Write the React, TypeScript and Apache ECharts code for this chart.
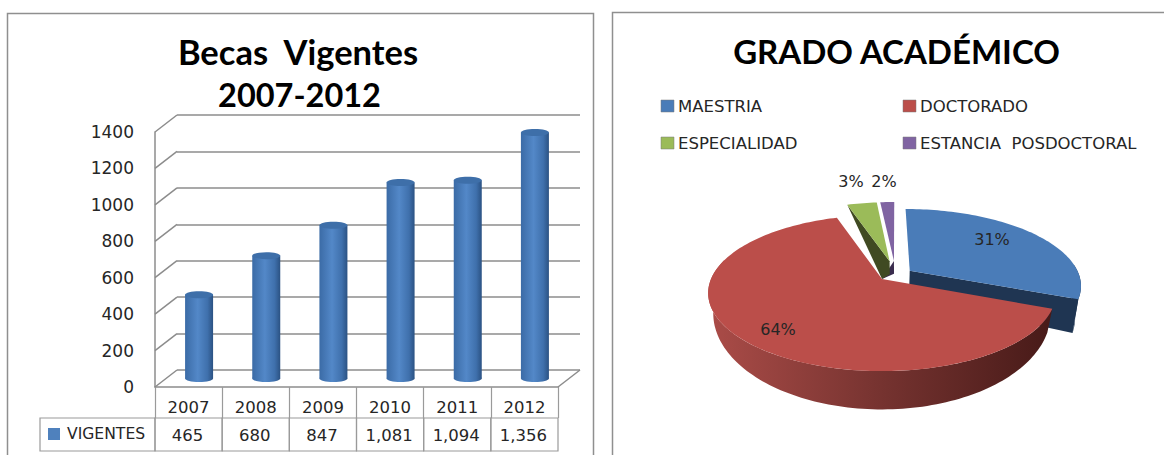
import React, { useEffect, useRef } from "react";
import * as echarts from "echarts";

const years = ["2007", "2008", "2009", "2010", "2011", "2012"];
const vigentes = [465, 680, 847, 1081, 1094, 1356];
const yTicks = [0, 200, 400, 600, 800, 1000, 1200, 1400];
const seriesName = "VIGENTES";
const pieNames = ["MAESTRIA", "DOCTORADO", "ESPECIALIDAD", "ESTANCIA  POSDOCTORAL"];
const pieValues = [31, 64, 3.4, 1.6];

const LABEL_FONT = "'DejaVu Sans', Verdana, sans-serif";
const TITLE_FONT = "Lato, 'Noto Sans', sans-serif";
const GRID_COLOR = "#8c8c8c";
const TABLE_COLOR = "#9a9a9a";
const TEXT_COLOR = "#262626";
const pieColors = ["#4a7cb8", "#bb4e4a", "#9bbb59", "#8064a2"];
const pieWalls = ["#1f3552", "#7d3531", "#404a22", "#3a2c4e"];

// projective model of the 3D pie
const PERSP = 0.18;
const CX = 882;
const TOP_PLANE = { cy: 279, a: 171, b: 75.5 };
const BOTTOM_PLANE = { cy: 296, a: 166, b: 93 };
const sliceExplode = [0.2, 0, 0.25, 0.25];
const sliceShiftX = [0, 0, 16, 14];
const sliceDropY = [12, 0, 0, 0];
const pieLabelAt = [[992, 239], [778, 329], [851, 181], [884, 181]];
const pieZ = [1, 6, 4, 3];

const DEPTH_X = 22;
const DEPTH_Y = 17;

function proj(u: number, v: number, plane: any, dx: number, dy: number): number[] {
  const d = 1 + PERSP * v;
  return [CX + dx + (plane.a * u) / d, plane.cy + dy - (plane.b * v) / d];
}

function renderPie(params: any, api: any) {
  const i = params.dataIndex;
  const total = pieValues.reduce((a, b) => a + b, 0);
  const before = pieValues.slice(0, i).reduce((a, b) => a + b, 0);
  const t0 = (before / total) * Math.PI * 2;
  const t1 = ((before + api.value(0)) / total) * Math.PI * 2;
  const mid = (t0 + t1) / 2;
  const e = sliceExplode[i];
  const ox = e * Math.sin(mid);
  const oy = e * Math.cos(mid);
  const dx = sliceShiftX[i];
  const drop = sliceDropY[i];
  const pt = (t: number, r: number, plane: any, dy: number) =>
    proj(ox + r * Math.sin(t), oy + r * Math.cos(t), plane, dx, dy);
  const arc = (a: number, b: number, plane: any, dy: number) => {
    const out: number[][] = [];
    const n = Math.max(4, Math.ceil(Math.abs(b - a) * 40));
    for (let k = 0; k <= n; k++) out.push(pt(a + ((b - a) * k) / n, 1, plane, dy));
    return out;
  };
  const z = pieZ[i];
  const children: any[] = [];
  const wallPoly = (points: number[][], fill: any) => ({
    type: "polygon",
    z2: z,
    shape: { points },
    style: { fill, stroke: "none" },
  });
  if (i === 1) {
    const end = (285 / 180) * Math.PI;
    const grad = new echarts.graphic.LinearGradient(0, 0, 1, 0, [
      { offset: 0, color: "#ab4c48" },
      { offset: 0.5, color: "#763330" },
      { offset: 1, color: "#471a18" },
    ]);
    children.push(wallPoly([...arc(t0, end, TOP_PLANE, 0), ...arc(t0, end, BOTTOM_PLANE, 0).reverse()], grad));
  } else if (i === 0) {
    const rimFrom = (85 / 180) * Math.PI;
    children.push(
      wallPoly([pt(0, 0, TOP_PLANE, 0), pt(t1, 1, TOP_PLANE, 0), pt(t1, 1, BOTTOM_PLANE, drop), pt(0, 0, BOTTOM_PLANE, drop)], pieWalls[i])
    );
    children.push(
      wallPoly([...arc(rimFrom, t1, TOP_PLANE, 0), ...arc(rimFrom, t1, BOTTOM_PLANE, drop).reverse()], pieWalls[i])
    );
  } else if (i === 2) {
    // inner cut wall reaches back to the apex of the main pie
    children.push(
      wallPoly([pt(0, 0, TOP_PLANE, 0), pt(t0, 1, TOP_PLANE, 0), proj(0, 0, TOP_PLANE, 0, 0), pt(0, 0, BOTTOM_PLANE, drop)], pieWalls[i])
    );
  } else {
    children.push(
      wallPoly([pt(0, 0, TOP_PLANE, 0), proj(0, 0, TOP_PLANE, 0, 0), pt(0, 0, BOTTOM_PLANE, drop)], pieWalls[i])
    );
  }
  children.push({
    type: "polygon",
    z2: z + 1,
    shape: { points: [pt(0, 0, TOP_PLANE, 0), ...arc(t0, t1, TOP_PLANE, 0)] },
    style: { fill: pieColors[i], stroke: "none" },
  });
  children.push({
    type: "text",
    z2: 20,
    style: {
      text: `${Math.round(api.value(0))}%`,
      x: pieLabelAt[i][0],
      y: pieLabelAt[i][1],
      align: "center",
      verticalAlign: "middle",
      fontFamily: LABEL_FONT,
      fontSize: 16,
      fill: TEXT_COLOR,
    },
  });
  return { type: "group", children };
}

function renderDiagonal(_: any, api: any) {
  const band = api.size([1, 0])[0];
  const p = api.coord([0, api.value(0)]);
  const x = p[0] - band / 2;
  const children: any[] = [
    {
      type: "line",
      shape: { x1: x, y1: p[1], x2: x + DEPTH_X, y2: p[1] - DEPTH_Y },
      style: { stroke: GRID_COLOR, lineWidth: 1.5 },
    },
  ];
  if (api.value(0) === 0) {
    const xr = x + band * years.length;
    children.push({
      type: "line",
      shape: { x1: xr, y1: p[1], x2: xr + DEPTH_X, y2: p[1] - DEPTH_Y },
      style: { stroke: GRID_COLOR, lineWidth: 1.5 },
    });
  }
  return { type: "group", children };
}

function renderCylinder(_: any, api: any) {
  const top = api.coord([api.value(0), api.value(1)]);
  const base = api.coord([api.value(0), 0]);
  const cx = top[0] + DEPTH_X / 2 - 0.5;
  const yTop = top[1] - DEPTH_Y / 2 + 1;
  const yBase = base[1] - DEPTH_Y / 2;
  const rx = 14;
  const ry = 3.5;
  const body = new echarts.graphic.LinearGradient(0, 0, 1, 0, [
    { offset: 0, color: "#3b6ba6" },
    { offset: 0.45, color: "#5388c8" },
    { offset: 0.8, color: "#3f70ac" },
    { offset: 1, color: "#2b5283" },
  ]);
  return {
    type: "group",
    children: [
      { type: "ellipse", shape: { cx, cy: yBase, rx, ry }, style: { fill: body } },
      { type: "rect", shape: { x: cx - rx, y: yTop, width: rx * 2, height: yBase - yTop }, style: { fill: body } },
      { type: "ellipse", shape: { cx, cy: yTop, rx, ry }, style: { fill: "#3e6fa9" } },
    ],
  };
}

function renderTableCell(params: any, api: any) {
  const band = api.size([1, 0])[0];
  const p = api.coord([api.value(0), 0]);
  const row1Bottom = p[1] + 31;
  const row2Bottom = p[1] + 64;
  const x0 = p[0] - band / 2;
  const children: any[] = [
    {
      type: "rect",
      shape: { x: x0, y: row1Bottom, width: band, height: row2Bottom - row1Bottom },
      style: { fill: "none", stroke: TABLE_COLOR, lineWidth: 1.2 },
    },
    {
      type: "text",
      style: {
        text: api.value(1).toLocaleString("en-US"),
        x: p[0] - 1,
        y: (row1Bottom + row2Bottom) / 2 + 1,
        align: "center",
        verticalAlign: "middle",
        fontFamily: LABEL_FONT,
        fontSize: 16.5,
        fill: TEXT_COLOR,
      },
    },
  ];
  if (params.dataIndex === 0) {
    const left = x0 - 115;
    children.push(
      {
        type: "rect",
        shape: { x: left, y: row1Bottom, width: 115, height: row2Bottom - row1Bottom },
        style: { fill: "none", stroke: TABLE_COLOR, lineWidth: 1.2 },
      },
      {
        type: "rect",
        shape: { x: left + 8, y: row1Bottom + 10, width: 12, height: 12 },
        style: { fill: "#4f81bd", stroke: "none" },
      },
      {
        type: "text",
        style: {
          text: seriesName,
          x: left + 27,
          y: (row1Bottom + row2Bottom) / 2 - 1,
          align: "left",
          verticalAlign: "middle",
          fontFamily: LABEL_FONT,
          fontSize: 15.6,
          fill: TEXT_COLOR,
        },
      }
    );
  }
  return { type: "group", children };
}

const legendPos = [[661, 100], [903, 100], [661, 137], [903, 137]];

export default function App() {
  const ref = useRef<HTMLDivElement>(null);
  useEffect(() => {
    const chart = echarts.init(ref.current!, undefined, { renderer: "svg" });
    const legendEls: any[] = [];
    pieNames.forEach((name, i) => {
      const [x, y] = legendPos[i];
      legendEls.push(
        {
          type: "rect",
          shape: { x, y, width: 13, height: 12 },
          style: { fill: pieColors[i], stroke: "#7a7a7a", lineWidth: 0.5 },
        },
        {
          type: "text",
          style: {
            text: name,
            x: x + 17,
            y: y + 6,
            align: "left",
            verticalAlign: "middle",
            fontFamily: LABEL_FONT,
            fontSize: 16.5,
            fill: TEXT_COLOR,
          },
        }
      );
    });
    const titleStyle = { fontFamily: TITLE_FONT, fontWeight: "bold", color: "#000" };
    chart.setOption({
      animation: false,
      backgroundColor: "#ffffff",
      title: [
        {
          text: "Becas  Vigentes",
          left: 293,
          top: 29,
          textAlign: "center",
          textStyle: { ...titleStyle, fontSize: 34.5 },
        },
        {
          text: "2007-2012",
          left: 294.5,
          top: 73,
          textAlign: "center",
          textStyle: { ...titleStyle, fontSize: 32.5 },
        },
        {
          text: "GRADO ACADÉMICO",
          left: 891.5,
          top: 29,
          textAlign: "center",
          textStyle: { ...titleStyle, fontSize: 33 },
        },
      ],
      grid: [
        { left: 155, top: 132, width: 403, height: 255 },
        { left: 155 + DEPTH_X, top: 132 - DEPTH_Y, width: 403, height: 255 },
      ],
      xAxis: [
        {
          type: "category",
          gridIndex: 0,
          data: years,
          axisLine: { show: true, lineStyle: { color: GRID_COLOR, width: 1.5 } },
          axisTick: { show: true, length: 31, alignWithLabel: false, lineStyle: { color: TABLE_COLOR, width: 1.2 } },
          axisLabel: { fontFamily: LABEL_FONT, fontSize: 16.5, color: TEXT_COLOR, margin: 12 },
        },
        { type: "category", gridIndex: 1, data: years, show: false },
      ],
      yAxis: [
        {
          type: "value",
          gridIndex: 0,
          min: 0,
          max: 1400,
          interval: 200,
          splitLine: { show: false },
          axisLine: { show: true, lineStyle: { color: GRID_COLOR, width: 1.5 } },
          axisTick: { show: false },
          axisLabel: { fontFamily: LABEL_FONT, fontSize: 17, color: TEXT_COLOR, margin: 21, formatter: (v: number) => String(v) },
        },
        {
          type: "value",
          gridIndex: 1,
          min: 0,
          max: 1400,
          interval: 200,
          splitLine: { show: true, lineStyle: { color: GRID_COLOR, width: 1.5 } },
          axisLine: { show: false },
          axisTick: { show: false },
          axisLabel: { show: false },
        },
      ],
      series: [
        {
          type: "custom",
          name: "walls",
          xAxisIndex: 0,
          yAxisIndex: 0,
          data: yTicks.map((t) => [t]),
          encode: { y: 0 },
          renderItem: renderDiagonal,
          z: 2,
        },
        {
          type: "custom",
          name: seriesName,
          xAxisIndex: 0,
          yAxisIndex: 0,
          data: vigentes.map((v, i) => [i, v]),
          encode: { x: 0, y: 1 },
          renderItem: renderCylinder,
          z: 3,
        },
        {
          type: "custom",
          name: "table",
          xAxisIndex: 0,
          yAxisIndex: 0,
          data: vigentes.map((v, i) => [i, v]),
          encode: { x: 0, y: 1 },
          renderItem: renderTableCell,
          z: 3,
        },
        {
          type: "custom",
          name: "GRADO ACADÉMICO",
          coordinateSystem: "none",
          data: pieValues.map((v) => [v]),
          renderItem: renderPie,
          z: 3,
        },
      ],
      graphic: [
        {
          type: "rect",
          silent: true,
          shape: { x: 7.5, y: 13.5, width: 586, height: 470 },
          style: { fill: "none", stroke: "#8f8f8f", lineWidth: 1.5 },
        },
        {
          type: "rect",
          silent: true,
          shape: { x: 612.5, y: 12.5, width: 620, height: 470 },
          style: { fill: "none", stroke: "#8f8f8f", lineWidth: 1.5 },
        },
        ...legendEls,
      ],
    });
    return () => chart.dispose();
  }, []);
  return <div ref={ref} style={{ position: "fixed", left: 0, top: 0, width: 1164, height: 455 }} />;
}
